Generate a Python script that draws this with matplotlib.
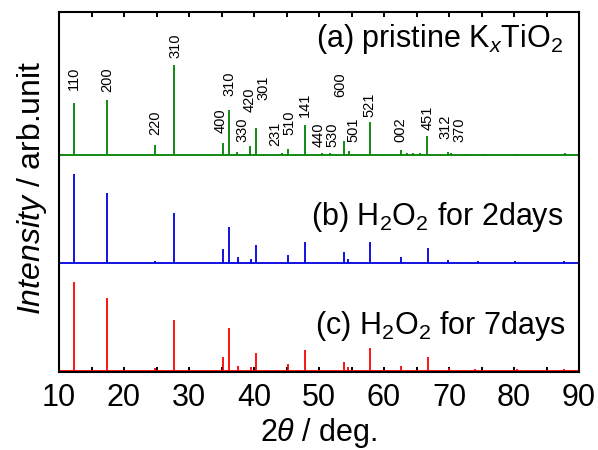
"""K_xTiO2 XRD patterns before/after H2O2 treatment."""

import matplotlib
matplotlib.use("Agg")
import matplotlib.pyplot as plt
from matplotlib.ticker import MultipleLocator

plt.rcParams["font.family"] = ["Liberation Sans", "DejaVu Sans"]
plt.rcParams["mathtext.fontset"] = "custom"
plt.rcParams["mathtext.rm"] = "Liberation Sans"
plt.rcParams["mathtext.it"] = "Liberation Sans:italic"

# peak positions (2theta, deg) and heights (arb.)
pristine_pos = [12.3, 17.4, 24.8, 27.7, 35.2, 36.1, 37.4, 39.4, 40.3, 44.3,
                45.3, 47.9, 50.5, 51.7, 53.9, 54.6, 57.8, 62.6, 63.6, 64.5,
                65.5, 66.6, 69.8, 70.3, 72.6, 75.2, 80.1, 87.8]
pristine_int = [52, 55, 10, 90, 12, 45, 3, 9, 27, 2,
                6, 30, 2, 2, 14, 4, 33, 5, 2, 2,
                2, 19, 3, 2, 1.5, 1.5, 1.5, 2]

days2_pos = [12.3, 17.4, 24.8, 27.7, 35.2, 36.1, 37.5, 39.5, 40.3, 45.3,
             47.9, 53.9, 54.5, 57.8, 62.6, 66.7, 69.8, 74.5, 80.2, 87.7]
days2_int = [89, 70, 2, 50, 14, 36, 6, 4, 18, 8,
             21, 11, 4, 21, 6, 15, 3, 2, 2, 2]

days7_pos = [12.3, 17.4, 24.8, 27.7, 35.2, 36.1, 37.5, 39.6, 40.3, 45.3,
             47.9, 53.9, 54.5, 57.8, 62.6, 66.7, 70.0, 74.0, 80.5, 87.7]
days7_int = [89, 73, 3, 51, 14, 43, 5, 4, 18, 7,
             21, 9, 4, 23, 5, 14, 3, 2, 2, 2]

# hkl labels for the pristine pattern: text, 2theta, bottom of label
hkl_text = ["110", "200", "220", "310", "400", "310", "330", "420", "301", "231",
            "510", "141", "440", "530", "600", "501", "521", "002", "451", "312",
            "370"]
hkl_x = [12.3, 17.5, 24.8, 27.85, 34.8, 36.3, 38.2, 39.4, 41.4, 43.3,
         45.5, 47.9, 49.9, 52.0, 53.2, 55.3, 57.8, 62.5, 66.7, 69.5,
         71.6]
hkl_y = [282, 280, 237, 314, 239, 276, 230, 260, 272, 226,
         237, 255, 225, 225, 275, 230, 255, 230, 242, 233,
         230]

OFFSETS = {"a": 217, "b": 109, "c": 1}
COLORS = {"a": "#008000", "b": "#0000dd", "c": "#ff0000"}


def draw_pattern(ax, pos, inten, offset, color):
    ax.hlines(offset, 10, 90, color=color, linewidth=1.3)
    ax.vlines(pos, offset, [offset + h for h in inten], color=color, linewidth=1.3)


def main():
    fig = plt.figure(figsize=(5.98, 4.5), dpi=100)
    ax = fig.add_axes([59 / 598, 1 - 372 / 450, 520 / 598, 360 / 450])

    draw_pattern(ax, pristine_pos, pristine_int, OFFSETS["a"], COLORS["a"])
    draw_pattern(ax, days2_pos, days2_int, OFFSETS["b"], COLORS["b"])
    draw_pattern(ax, days7_pos, days7_int, OFFSETS["c"], COLORS["c"])

    for txt, x, y in zip(hkl_text, hkl_x, hkl_y):
        ax.text(x, y, txt, rotation=90, ha="center", va="bottom", fontsize=10.5)

    ax.text(87.6, 325, r"(a) pristine K$_{\mathit{x}}$TiO$_2$",
            ha="right", va="baseline", fontsize=22)
    ax.text(87.6, 147, r"(b) H$_2$O$_2$ for 2days",
            ha="right", va="baseline", fontsize=22)
    ax.text(87.9, 38, r"(c) H$_2$O$_2$ for 7days",
            ha="right", va="baseline", fontsize=22)

    ax.set_xlim(10, 90)
    ax.set_ylim(0, 360)
    ax.xaxis.set_major_locator(MultipleLocator(10))
    ax.xaxis.set_minor_locator(MultipleLocator(5))
    ax.tick_params(axis="x", which="both", direction="in", top=True,
                   length=3.8, width=1.4, labelsize=22, pad=8)
    ax.set_yticks([])
    for sp in ax.spines.values():
        sp.set_linewidth(1.5)

    ax.set_xlabel(r"2$\theta$ / deg.", fontsize=22, labelpad=2)
    fig.text(32 / 598, 1 - 188 / 450, r"$\mathit{Intensity}$ / arb.unit",
             rotation=90, ha="center", va="center", fontsize=23)

    fig.savefig("out.png", dpi=100)
    plt.close(fig)


if __name__ == "__main__":
    main()
